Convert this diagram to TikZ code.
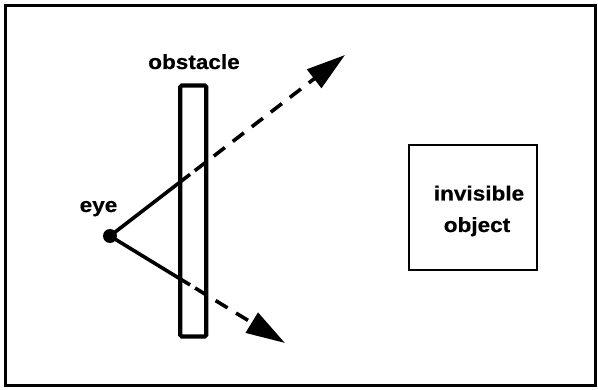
\documentclass[tikz,border=0pt]{standalone}
\usepackage{fontspec}
\newfontfamily\labfont[FakeStretch=1.1,BoldFeatures={FakeBold=0.6}]{Liberation Sans}
\usetikzlibrary{arrows.meta}
\tikzset{
  lab/.style={font=\labfont\bfseries\fontsize{20.5}{24}\selectfont, inner sep=0pt, anchor=base},
  ray/.style={line width=3.6pt},
  dray/.style={line width=3.6pt, dash pattern=on 14pt off 10pt, -{Triangle[length=39pt,width=23pt]}},
}
\begin{document}
\begin{tikzpicture}[x=1pt,y=-1pt]
\useasboundingbox (0,0) rectangle (598,390);
% frame
\draw[line width=3pt] (5.5,5.5) rectangle (595.5,386);
% obstacle
\node[draw, line width=4.2pt, rounded corners=1.5pt, minimum width=26pt, minimum height=251pt, inner sep=0pt, outer sep=0pt] (obst) at (193.25,211) {};
\node[lab] (obstlab) at (194,69) {obstacle};
% invisible object
\node[draw, line width=2.4pt, minimum width=128pt, minimum height=125pt, inner sep=0pt, outer sep=0pt] (obj) at (473,207.5) {};
\node[lab] (objl1) at (479,200.5) {invisible};
\node[lab] (objl2) at (477,232) {object};
% eye
\node[circle, fill=black, minimum size=14pt, inner sep=0pt] (eye) at (110,236) {};
\node[lab] (eyelab) at (98.5,212) {eye};
% rays
\coordinate (bU) at (190,174.4);
\coordinate (tU) at (345,55);
\coordinate (bD) at (190,284.9);
\coordinate (tD) at (285,343);
\draw[ray] (eye.center) -- (bU);
\draw[ray] (eye.center) -- (bD);
\draw[dray, dash phase=-6pt] (bU) -- (tU);
\draw[dray, dash phase=-6pt] (bD) -- (tD);
\end{tikzpicture}
\end{document}
